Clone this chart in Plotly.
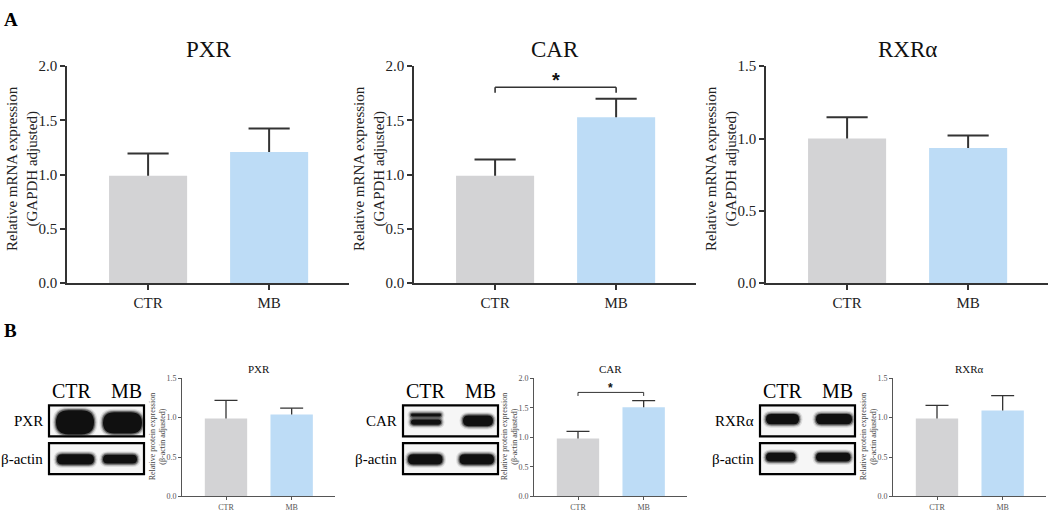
import plotly.graph_objects as go

W, H = 1052, 519

# ---------------- data ----------------
categories = ["CTR", "MB"]

mrna_pxr = [0.99, 1.21]
mrna_pxr_sd = [0.205, 0.215]
mrna_car = [0.99, 1.53]
mrna_car_sd = [0.15, 0.17]
mrna_rxr = [1.00, 0.935]
mrna_rxr_sd = [0.147, 0.085]

prot_pxr = [0.99, 1.04]
prot_pxr_sd = [0.23, 0.08]
prot_car = [0.98, 1.51]
prot_car_sd = [0.12, 0.11]
prot_rxr = [0.99, 1.09]
prot_rxr_sd = [0.165, 0.19]

titles = ["PXR", "CAR", "RXRα"]

# ---------------- style ----------------
GRAY = "#d3d3d5"
BLUE = "#bddcf6"
AX = "#333333"
SERIF = "Liberation Serif"


def fx(x):
    return x / W


def fy(y):
    return 1 - y / H


fig = go.Figure()

panels = [
    dict(vals=mrna_pxr, sd=mrna_pxr_sd, ymax=2.0, xd=(67, 349), yd=(60, 284), big=True, title=titles[0]),
    dict(vals=mrna_car, sd=mrna_car_sd, ymax=2.0, xd=(414, 696), yd=(60, 284), big=True, title=titles[1]),
    dict(vals=mrna_rxr, sd=mrna_rxr_sd, ymax=1.5, xd=(766, 1048), yd=(60, 284), big=True, title=titles[2]),
    dict(vals=prot_pxr, sd=prot_pxr_sd, ymax=1.5, xd=(182, 335), yd=(382, 504), big=False, title=titles[0]),
    dict(vals=prot_car, sd=prot_car_sd, ymax=2.0, xd=(534, 687), yd=(382, 504), big=False, title=titles[1]),
    dict(vals=prot_rxr, sd=prot_rxr_sd, ymax=1.5, xd=(893, 1046), yd=(382, 504), big=False, title=titles[2]),
]

annotations = []
shapes = []
layout_axes = {}

for i, p in enumerate(panels, start=1):
    big = p["big"]
    xa = "x" if i == 1 else f"x{i}"
    ya = "y" if i == 1 else f"y{i}"
    fig.add_trace(go.Bar(
        x=categories, y=p["vals"],
        marker=dict(color=[GRAY, BLUE], line=dict(width=0)),
        width=0.645,
        xaxis=xa, yaxis=ya, showlegend=False, hoverinfo="skip",
    ))
    # upper-only error bars (mean + SD), drawn in data coordinates
    ew = 2 if big else 1.3
    cap = 0.17 if big else 0.175
    for k, (v, s) in enumerate(zip(p["vals"], p["sd"])):
        shapes.append(dict(type="line", xref=xa, yref=ya, x0=k, x1=k, y0=v, y1=v + s,
                           line=dict(color=AX, width=ew), layer="above"))
        shapes.append(dict(type="line", xref=xa, yref=ya, x0=k - cap, x1=k + cap, y0=v + s, y1=v + s,
                           line=dict(color=AX, width=ew), layer="above"))
    lw = 1.6 if big else 1.0
    lc = AX if big else "#555555"
    tf = dict(family=SERIF, size=15 if big else 8, color="#222222" if big else "#555555")
    layout_axes["xaxis" if i == 1 else f"xaxis{i}"] = dict(
        domain=[fx(p["xd"][0]), fx(p["xd"][1])], anchor=ya, type="category",
        range=[-0.67, 1.66], showline=True, linecolor=lc, linewidth=lw,
        ticks="outside", ticklen=5 if big else 3, tickwidth=lw, tickcolor=lc,
        tickfont=tf, showgrid=False, zeroline=False, fixedrange=True)
    layout_axes["yaxis" if i == 1 else f"yaxis{i}"] = dict(
        domain=[fy(p["yd"][1]), fy(p["yd"][0])], anchor=xa,
        range=[0, p["ymax"]], dtick=0.5, tick0=0, tickformat=".1f",
        showline=True, linecolor=lc, linewidth=lw,
        ticks="outside", ticklen=5 if big else 3, tickwidth=lw, tickcolor=lc,
        tickfont=tf, showgrid=False, zeroline=False, fixedrange=True)
    cx = (p["xd"][0] + p["xd"][1]) / 2
    annotations.append(dict(
        text=p["title"], x=fx(cx), y=fy(43 if big else 372), xref="paper", yref="paper",
        xanchor="center", yanchor="middle", showarrow=False,
        font=dict(family=SERIF, size=23 if big else 11, color="#111111")))
    if big:
        ytxt = "Relative mRNA expression<br>(GAPDH adjusted)"
        tx = p["xd"][0] - 44
        ty = 166
        fs = 15
    else:
        ytxt = "Relative protein expression<br>(β-actin adjusted)"
        tx = p["xd"][0] - 25
        ty = 442
        fs = 8
    annotations.append(dict(
        text=ytxt, x=fx(tx), y=fy(ty), xref="paper", yref="paper", textangle=-90,
        xanchor="center", yanchor="middle", showarrow=False,
        font=dict(family=SERIF, size=fs, color="#222222" if big else "#444444")))

# significance brackets (CAR panels)
sig = [
    dict(xa="x2", ya="y2", y=1.805, leg=1.755, star=1.87, big=True),
    dict(xa="x5", ya="y5", y=1.76, leg=1.70, star=1.83, big=False),
]
for s in sig:
    w = 1.6 if s["big"] else 1.0
    for (x0, y0, x1, y1) in [(0, s["y"], 1, s["y"]), (0, s["leg"], 0, s["y"]), (1, s["leg"], 1, s["y"])]:
        shapes.append(dict(type="line", xref=s["xa"], yref=s["ya"], x0=x0, y0=y0, x1=x1, y1=y1,
                           line=dict(color=AX, width=w)))
    annotations.append(dict(
        text="<b>*</b>", x=0.5, y=s["star"], xref=s["xa"], yref=s["ya"],
        xanchor="center", yanchor="middle", showarrow=False,
        font=dict(family="Liberation Sans", size=20 if s["big"] else 12, color="#111111")))

# panel letters
for letter, yy in [("A", 12), ("B", 333)]:
    annotations.append(dict(
        text=f"<b>{letter}</b>", x=fx(2), y=fy(yy), xref="paper", yref="paper",
        xanchor="left", yanchor="middle", showarrow=False,
        font=dict(family=SERIF, size=19, color="#000000")))


# ---------------- western blot drawings ----------------
def stadium(x0, y0, x1, y1):
    r = min((y1 - y0) / 2, (x1 - x0) / 2)
    ym = (y0 + y1) / 2
    P = lambda x, y: f"{fx(x):.5f},{fy(y):.5f}"
    return (f"M {P(x0 + r, y0)} L {P(x1 - r, y0)} Q {P(x1, y0)} {P(x1, ym)} "
            f"Q {P(x1, y1)} {P(x1 - r, y1)} L {P(x0 + r, y1)} Q {P(x0, y1)} {P(x0, ym)} "
            f"Q {P(x0, y0)} {P(x0 + r, y0)} Z")


def band(L, x0, y0, x1, y1):
    for grow, op in [(3.5, 0.10), (2.3, 0.22), (1.2, 0.45), (0, 0.97)]:
        shapes.append(dict(type="path", xref="paper", yref="paper",
                           path=stadium(L + x0 - grow, y0 - grow, L + x1 + grow, y1 + grow),
                           fillcolor="#0d0d0d", opacity=op, line=dict(width=0)))


blots = [
    dict(L=49, name="PXR",
         row1=[(7, 415, 45, 440), (54, 417, 93, 439)],
         row2=[(8, 460.5, 45, 471), (54, 461, 88, 470)]),
    dict(L=403, name="CAR",
         row1=[(8, 418.5, 38, 421.5), (8, 424.5, 38, 430), (60, 420.5, 90, 431.5)],
         row2=[(5, 460.5, 39.5, 471), (56.5, 460.5, 91, 471)]),
    dict(L=760, name="RXRα",
         row1=[(6, 419, 39, 429.5), (56, 419, 92, 429.5)],
         row2=[(6, 459, 35.5, 468), (56, 459, 90.5, 468)]),
]
BOX_W = 95
for b in blots:
    L = b["L"]
    for (y0, y1) in [(410, 442), (449, 481)]:
        shapes.append(dict(type="rect", xref="paper", yref="paper",
                           x0=fx(L), x1=fx(L + BOX_W), y0=fy(y1), y1=fy(y0),
                           fillcolor="#f6f6f6", line=dict(color="#000000", width=2.2)))
    for bd in b["row1"]:
        band(L, *bd)
    for bd in b["row2"]:
        band(L, *bd)
    for lab, cx in [("CTR", L + 23), ("MB", L + 77)]:
        annotations.append(dict(
            text=lab, x=fx(cx), y=fy(395), xref="paper", yref="paper",
            xanchor="center", yanchor="middle", showarrow=False,
            font=dict(family=SERIF, size=20, color="#000000")))
    for lab, yy in [(b["name"], 426), ("β-actin", 465.5)]:
        annotations.append(dict(
            text=lab, x=fx(L - 4), y=fy(yy), xref="paper", yref="paper",
            xanchor="right", yanchor="middle", showarrow=False,
            font=dict(family=SERIF, size=15, color="#000000")))

fig.update_layout(
    width=W, height=H, autosize=False,
    margin=dict(l=0, r=0, t=0, b=0),
    paper_bgcolor="white", plot_bgcolor="white",
    annotations=annotations, shapes=shapes,
    **layout_axes,
)

fig.write_html(
    "out.html",
    config={"displayModeBar": False},
    post_script=(
        "var de=document.documentElement, bd=document.body;"
        "de.style.margin='0';de.style.padding='0';de.style.overflow='hidden';"
        "bd.style.margin='0';bd.style.padding='0';bd.style.overflow='hidden';"
    ),
)
